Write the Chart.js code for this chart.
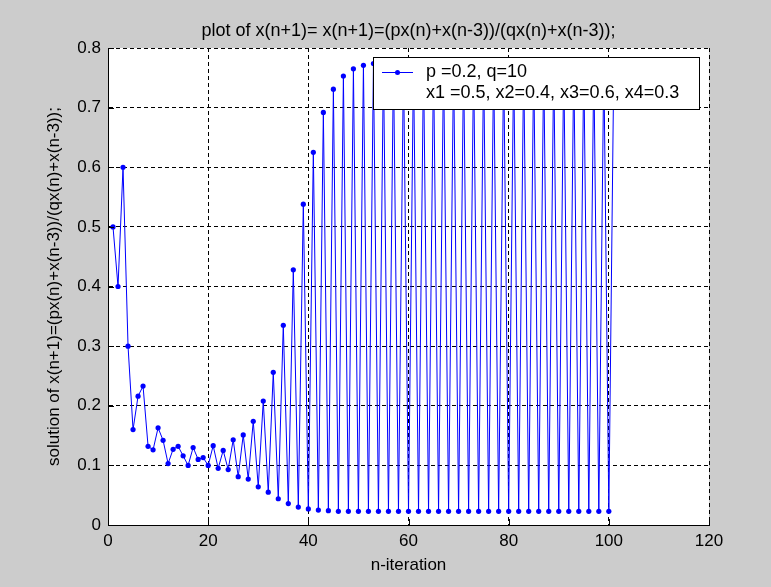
<!DOCTYPE html>
<html>
<head>
<meta charset="utf-8">
<title>plot of x(n+1)</title>
<script src="https://cdn.jsdelivr.net/npm/chart.js@4.4.0/dist/chart.umd.min.js"></script>
<style>
  html, body { margin: 0; padding: 0; background: #cccccc; }
  #wrap { width: 771px; height: 587px; }
</style>
</head>
<body>
<div id="wrap"><canvas id="plot" width="771" height="587"></canvas></div>
<script>
// x(n) for n = 1..101
const solution = [
  0.5, 0.4, 0.6, 0.3, 0.16, 0.216, 0.233, 0.132, 0.126, 0.163,
  0.142, 0.103, 0.127, 0.132, 0.116, 0.100, 0.130, 0.110, 0.113, 0.100,
  0.133, 0.095, 0.125, 0.093, 0.143, 0.081, 0.151, 0.077, 0.174, 0.064,
  0.208, 0.055, 0.256, 0.044, 0.335, 0.036, 0.428, 0.030, 0.538, 0.027,
  0.625, 0.025, 0.692, 0.024, 0.731, 0.023, 0.753, 0.023, 0.765, 0.023,
  0.771, 0.023, 0.774, 0.023, 0.776, 0.023, 0.777, 0.023, 0.777, 0.023,
  0.777, 0.023, 0.777, 0.023, 0.777, 0.023, 0.777, 0.023, 0.777, 0.023,
  0.777, 0.023, 0.777, 0.023, 0.777, 0.023, 0.777, 0.023, 0.777, 0.023,
  0.777, 0.023, 0.777, 0.023, 0.777, 0.023, 0.777, 0.023, 0.777, 0.023,
  0.777, 0.023, 0.777, 0.023, 0.777, 0.023, 0.777, 0.023, 0.777, 0.023,
  0.777
];
// iteration index n (1-based, as matlab plot(x) does)
const iterations = solution.map((_, i) => i + 1);

const xTicks = [0, 20, 40, 60, 80, 100, 120];
const yTicks = [0, 0.1, 0.2, 0.3, 0.4, 0.5, 0.6, 0.7, 0.8];

const titleText = "plot of x(n+1)= x(n+1)=(px(n)+x(n-3))/(qx(n)+x(n-3));";
const xLabel = "n-iteration";
const yLabel = "solution of x(n+1)=(px(n)+x(n-3))/(qx(n)+x(n-3));";
const legendLines = ["p =0.2, q=10", "x1 =0.5, x2=0.4, x3=0.6, x4=0.3"];

const FONT = '"Liberation Sans", Arial, sans-serif';
const BLUE = "#0000ff";

// grey figure, white axes, title, inward ticks and the boxed legend
const matlabFrame = {
  id: "matlabFrame",
  beforeDraw(chart) {
    const { ctx, chartArea: a } = chart;
    ctx.save();
    ctx.fillStyle = "#cccccc";
    ctx.fillRect(0, 0, chart.width, chart.height);
    ctx.fillStyle = "#ffffff";
    ctx.fillRect(a.left, a.top, a.right - a.left, a.bottom - a.top);
    ctx.restore();
  },
  afterDraw(chart) {
    const { ctx, chartArea: a } = chart;
    const xs = chart.scales.x, ys = chart.scales.y;
    ctx.save();

    // title
    ctx.fillStyle = "#000";
    ctx.font = "18px " + FONT;
    ctx.textAlign = "center";
    ctx.textBaseline = "middle";
    ctx.fillText(titleText, (a.left + a.right) / 2, 31);

    // ticks pointing into the axes
    ctx.strokeStyle = "#000";
    ctx.lineWidth = 1;
    ctx.beginPath();
    xTicks.forEach(v => {
      const px = Math.round(xs.getPixelForValue(v)) + 0.5;
      ctx.moveTo(px, a.bottom);
      ctx.lineTo(px, a.bottom - 6);
    });
    yTicks.forEach(v => {
      const py = Math.round(ys.getPixelForValue(v)) + 0.5;
      ctx.moveTo(a.left, py);
      ctx.lineTo(a.left + 6, py);
    });
    ctx.stroke();

    // legend
    const lx = a.right - 336, ly = a.top + 9, lw = 326, lh = 52;
    ctx.fillStyle = "#fff";
    ctx.fillRect(lx, ly, lw, lh);
    ctx.strokeStyle = "#000";
    ctx.strokeRect(lx + 0.5, ly + 0.5, lw, lh);

    const sy = ly + 15;
    ctx.strokeStyle = BLUE;
    ctx.beginPath();
    ctx.moveTo(lx + 9, sy + 0.5);
    ctx.lineTo(lx + 40, sy + 0.5);
    ctx.stroke();
    ctx.fillStyle = BLUE;
    ctx.beginPath();
    ctx.arc(lx + 24.5, sy + 0.5, 2.5, 0, Math.PI * 2);
    ctx.fill();

    ctx.fillStyle = "#000";
    ctx.font = "18px " + FONT;
    ctx.textAlign = "left";
    ctx.textBaseline = "middle";
    ctx.fillText(legendLines[0], lx + 53, sy);
    ctx.fillText(legendLines[1], lx + 53, sy + 21);

    ctx.restore();
  }
};

new Chart(document.getElementById("plot"), {
  type: "line",
  data: {
    datasets: [{
      label: legendLines.join(" "),
      data: iterations.map((n, i) => ({ x: n, y: solution[i] })),
      borderColor: BLUE,
      borderWidth: 1,
      backgroundColor: BLUE,
      pointBackgroundColor: BLUE,
      pointBorderWidth: 0,
      pointRadius: 2.6,
      tension: 0,
      fill: false
    }]
  },
  options: {
    responsive: false,
    animation: false,
    devicePixelRatio: 1,
    layout: { padding: { top: 48, right: 62, left: 0, bottom: 0 } },
    plugins: {
      legend: { display: false },
      title: { display: false },
      tooltip: { enabled: false }
    },
    scales: {
      x: {
        type: "linear",
        min: 0,
        max: 120,
        afterBuildTicks: s => { s.ticks = xTicks.map(v => ({ value: v })); },
        afterFit: s => { s.height = 62; },
        ticks: { color: "#000", font: { family: FONT, size: 17 }, padding: 6, maxRotation: 0 },
        grid: { color: "#000", lineWidth: 1, drawTicks: false },
        border: { display: true, color: "#000", width: 1, dash: [4, 3] },
        title: { display: true, text: xLabel, color: "#000", font: { family: FONT, size: 17 }, padding: { top: 0, bottom: 11 } }
      },
      y: {
        type: "linear",
        min: 0,
        max: 0.8,
        afterBuildTicks: s => { s.ticks = yTicks.map(v => ({ value: v })); },
        afterFit: s => { s.width = 108; },
        ticks: { color: "#000", font: { family: FONT, size: 17 }, padding: 7, callback: v => String(+v.toFixed(1)) },
        grid: { color: "#000", lineWidth: 1, drawTicks: false },
        border: { display: true, color: "#000", width: 1, dash: [4, 3] },
        title: { display: true, text: yLabel, color: "#000", font: { family: FONT, size: 17 }, padding: { top: 44, bottom: 0 } }
      }
    }
  },
  plugins: [matlabFrame]
});
</script>
</body>
</html>
